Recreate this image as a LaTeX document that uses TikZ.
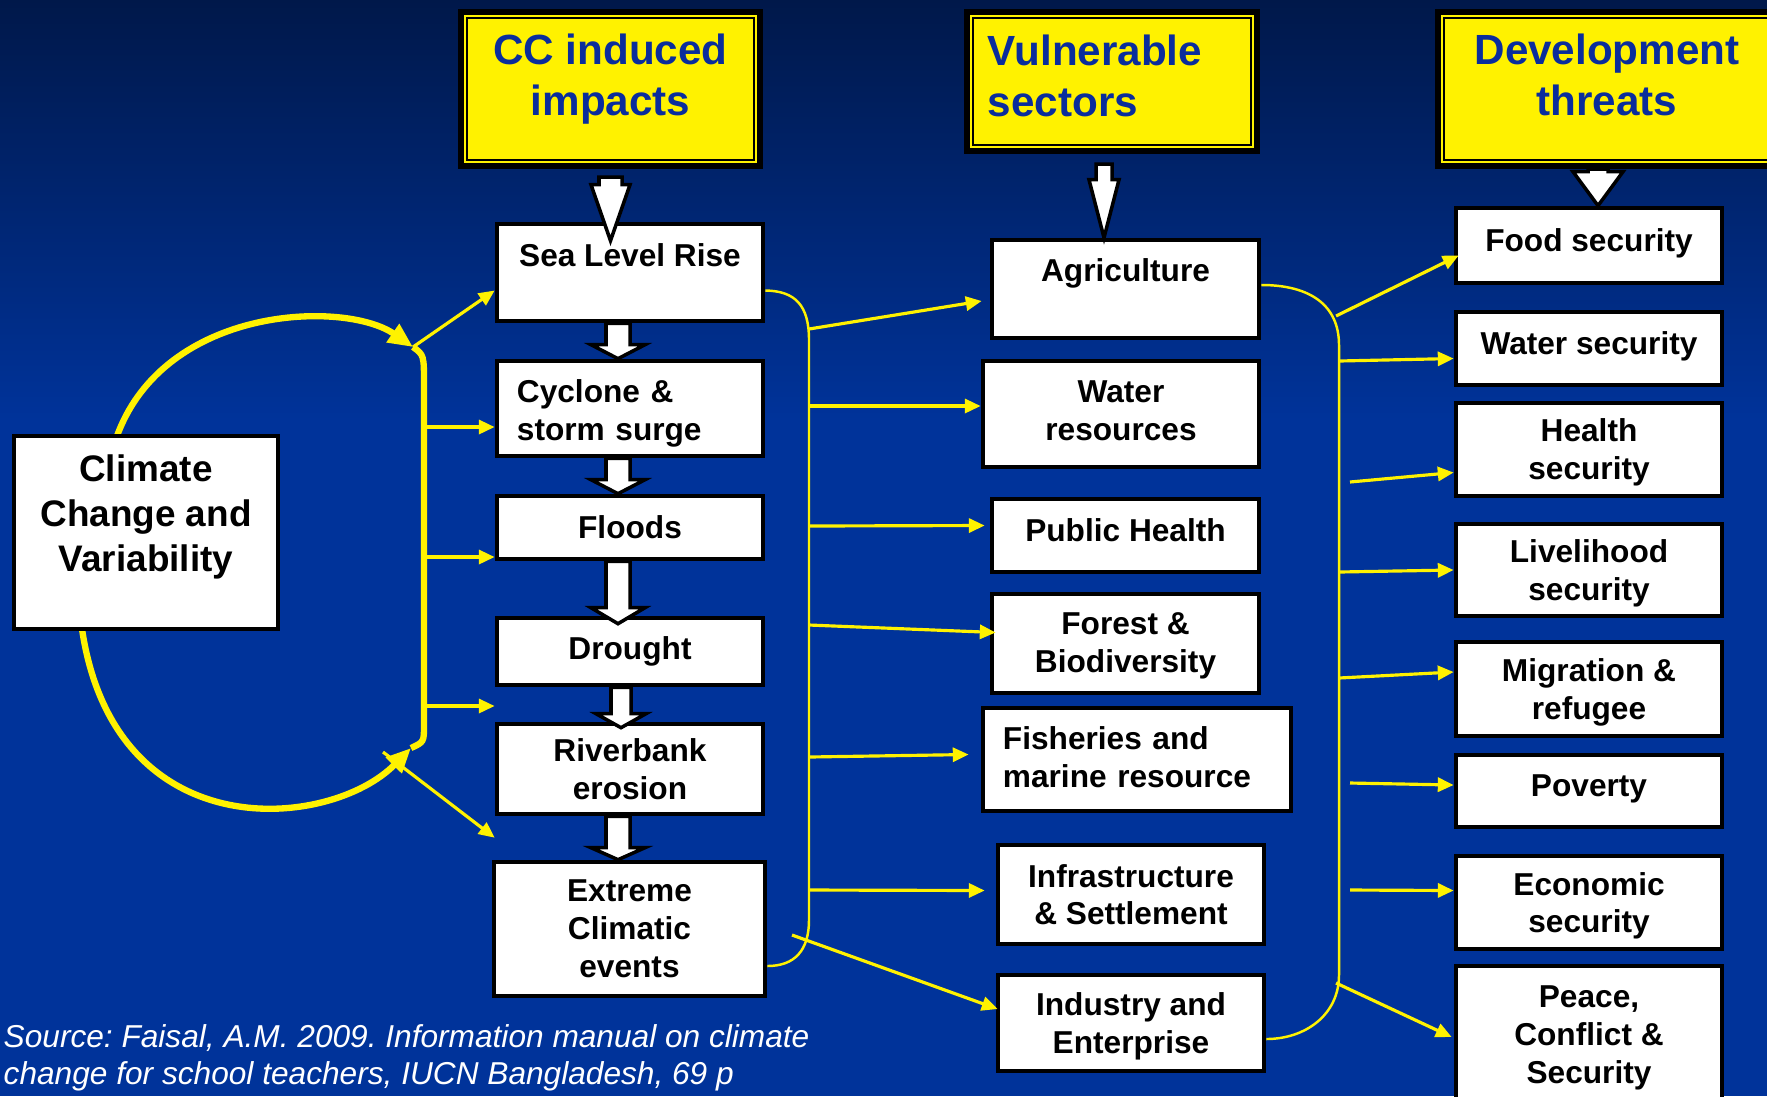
\documentclass[tikz,border=0pt]{standalone}
\usepackage{fontspec}
\setmainfont{Liberation Sans}
\usetikzlibrary{arrows.meta,calc}
\definecolor{navy}{HTML}{00184A}
\definecolor{slideblue}{HTML}{00339A}
\definecolor{headblue}{HTML}{0A2D9C}
\newcommand{\blockarrow}[5]{%
  \path[draw=black,fill=white,line width=1pt,line join=miter] let \p1=(#1), \p2=(#2) in
    (\x1-#3,\y1) -- (\x1-#3,\y2+#5) -- (\x1-#4,\y2+#5) -- (\x1,\y2)
    -- (\x1+#4,\y2+#5) -- (\x1+#3,\y2+#5) -- (\x1+#3,\y1) -- cycle;}

\begin{document}
\begin{tikzpicture}[x=0.01cm,y=-0.01cm,
    whitebox/.style={draw=black,line width=1.3pt,fill=white,align=center,
      font=\bfseries\fontsize{9}{10.8}\selectfont,inner sep=2pt},
    headbox/.style={preaction={draw=black,line width=5.2pt},
      preaction={draw=yellow,line width=1.8pt},
      draw=black,line width=0.6pt,fill=yellow,text=headblue,align=center,
      font=\bfseries\fontsize{12}{14.4}\selectfont},
    bigloop/.style={yellow,line width=1.8pt},
    thinline/.style={yellow,line width=0.7pt},
    thinarr/.style={yellow,line width=0.9pt,-{Triangle[length=4.5pt,width=4pt]}},
    srctext/.style={text=white,font=\itshape\frenchspacing\fontsize{9}{10.5}\selectfont,align=left,inner sep=0pt}]
    \useasboundingbox (0,0) rectangle (1767,1096);
    \fill[slideblue] (0,0) rectangle (1767,1096);
    \shade[top color=navy,bottom color=slideblue] (0,0) rectangle (1767,420);

    \node[headbox,minimum width=2.87cm,minimum height=1.42cm,text depth=8pt] (hcc) at (610.5,89) {CC induced\\impacts};
    \node[headbox,minimum width=2.78cm,minimum height=1.27cm,text width=2.48cm,inner xsep=0.15cm,align=left,text depth=17.6pt] (hvs) at (1112,81.5) {Vulnerable\\sectors};
    \node[headbox,minimum width=3.26cm,minimum height=1.42cm,text depth=8pt] (hdt) at (1607,89) {Development\\threats};

    \coordinate (ltop) at (413,347);
    \coordinate (lbot) at (411,748);
    \draw[bigloop,-{Triangle[length=7pt,width=6pt]}] (117,436) .. controls (165,305) and (345,300) .. (ltop);
    \draw[bigloop,-{Triangle[length=7pt,width=6pt]}] (82,629) .. controls (115,850) and (330,830) .. (lbot);
    \draw[bigloop] (ltop) .. controls (424,355) .. (424,385) -- (424,725) .. controls (424,742) .. (lbot);

    \node[whitebox,minimum width=2.64cm,minimum height=1.93cm,text depth=10.9pt,
      font=\bfseries\fontsize{10.5}{12.8}\selectfont] (ccv) at (146,532.5) {Climate\\Change and\\Variability};

    \node[whitebox,minimum width=2.66cm,minimum height=0.97cm,text depth=10pt] (slr) at (630,272.5) {Sea Level Rise};
    \node[whitebox,minimum height=0.95cm,text width=2.26cm,inner xsep=0.2cm,align=left,text depth=10.1pt] (cyc) at (630,408.5) {Cyclone \&\\storm surge};
    \node[whitebox,minimum width=2.66cm,minimum height=0.63cm] (fld) at (630,527.5) {Floods};
    \node[whitebox,minimum width=2.66cm,minimum height=0.67cm] (drt) at (630,651.5) {Drought};
    \node[whitebox,minimum width=2.66cm,minimum height=0.90cm,text depth=-2pt] (rvb) at (630,769) {Riverbank\\erosion};
    \node[whitebox,minimum width=2.71cm,minimum height=1.34cm,text depth=-2pt] (ext) at (629.5,929) {Extreme\\Climatic\\events};

    \node[whitebox,minimum width=2.67cm,minimum height=0.98cm,text depth=10.8pt] (agr) at (1125.5,289) {Agriculture};
    \node[whitebox,minimum width=2.76cm,minimum height=1.06cm,text depth=1.9pt] (wres) at (1121,414) {Water\\resources};
    \node[whitebox,minimum width=2.67cm,minimum height=0.73cm,text depth=3pt] (phl) at (1125.5,535.5) {Public Health};
    \node[whitebox,minimum width=2.67cm,minimum height=0.99cm,text depth=0.6pt] (frst) at (1125.5,643.5) {Forest \&\\Biodiversity};
    \node[whitebox,minimum height=1.03cm,text width=2.68cm,inner xsep=0.2cm,align=left,text depth=12.1pt] (fish) at (1137,759.5) {Fisheries and\\marine resource};
    \node[whitebox,minimum width=2.66cm,minimum height=0.99cm,text depth=-0.6pt] (infr) at (1131,894.5) {Infrastructure\\\& Settlement};
    \node[whitebox,minimum width=2.66cm,minimum height=0.96cm,text depth=-1pt] (ind) at (1131,1023) {Industry and\\Enterprise};

    \node[whitebox,minimum width=2.66cm,minimum height=0.75cm,text depth=3pt] (food) at (1589,245.5) {Food security};
    \node[whitebox,minimum width=2.66cm,minimum height=0.73cm,text depth=3pt] (wsec) at (1589,348.5) {Water security};
    \node[whitebox,minimum width=2.66cm,minimum height=0.93cm,text depth=-2pt] (hsec) at (1589,449.5) {Health\\security};
    \node[whitebox,minimum width=2.66cm,minimum height=0.92cm,text depth=-2pt] (lsec) at (1589,570) {Livelihood\\security};
    \node[whitebox,minimum width=2.66cm,minimum height=0.94cm,text depth=-0.6pt] (mig) at (1589,689) {Migration \&\\refugee};
    \node[whitebox,minimum width=2.66cm,minimum height=0.72cm,text depth=3pt] (pov) at (1589,791) {Poverty};
    \node[whitebox,minimum width=2.66cm,minimum height=0.93cm,text depth=-2pt] (eco) at (1589,902.5) {Economic\\security};
    \node[whitebox,minimum width=2.66cm,minimum height=1.38cm,text depth=0pt] (pce) at (1589,1035) {Peace,\\Conflict \&\\Security};

    \coordinate (l1) at (424,427);
    \coordinate (l2) at (424,557);
    \coordinate (l3) at (424,706);
    \coordinate (l4) at (383,752);
    \draw[thinarr] (ltop) -- ($(slr.west)+(0,18)$);
    \draw[thinarr] (l1) -- (l1 -| cyc.west);
    \draw[thinarr] (l2) -- (l2 -| fld.west);
    \draw[thinarr] (l3) -- (l3 -| drt.west);
    \draw[thinarr] (l4) -- ($(ext.north west)+(3,-22)$);

    \draw[thinline] ($(slr.east)+(0,18)$) .. controls (795,291) and (809,305) .. (809,340) -- (809,920)
      .. controls (809,950) and (795,966) .. ($(ext.east)+(0,37)$);
    \coordinate (m1) at (809,329);
    \coordinate (m2) at (809,406);
    \coordinate (m3) at (809,526);
    \coordinate (m4) at (809,625);
    \coordinate (m5) at (809,757);
    \coordinate (m6) at (809,890);
    \coordinate (m7) at (792,935);
    \draw[thinarr] (m1) -- ($(agr.west)+(-8,12)$);
    \draw[thinarr] (m2) -- (m2 -| wres.west);
    \draw[thinarr] (m3) -- ($(phl.west)+(-5,-10)$);
    \draw[thinarr] (m4) -- ($(frst.west)+(6,-11)$);
    \draw[thinarr] (m5) -- ($(fish.west)+(-12,-5)$);
    \draw[thinarr] (m6) -- ($(infr.west)+(-11,-4)$);
    \draw[thinarr] (m7) -- ($(ind.west)+(2,-14)$);

    \draw[thinline] ($(agr.east)+(0,-4)$) .. controls (1310,285) and (1339,305) .. (1339,345) -- (1339,975)
      .. controls (1339,1015) and (1305,1039) .. ($(ind.east)+(0,16)$);
    \coordinate (r1) at (1336,316);
    \coordinate (r2) at (1339,361);
    \coordinate (r3) at (1350,482);
    \coordinate (r4) at (1339,572);
    \coordinate (r5) at (1339,678);
    \coordinate (r6) at (1350,783);
    \coordinate (r7) at (1350,890);
    \coordinate (r8) at (1336,983);
    \draw[thinarr] (r1) -- ($(food.west)+(5,10)$);
    \draw[thinarr] (r2) -- ($(wsec.west)+(0,10)$);
    \draw[thinarr] (r3) -- ($(hsec.west)+(0,23)$);
    \draw[thinarr] (r4) -- (lsec.west);
    \draw[thinarr] (r5) -- ($(mig.west)+(0,-17)$);
    \draw[thinarr] (r6) -- ($(pov.west)+(0,-6)$);
    \draw[thinarr] (r7) -- ($(eco.west)+(0,-12)$);
    \draw[thinarr] (r8) -- ($(pce.west)+(-2,2)$);

    \blockarrow{[yshift=-0.16cm]hcc.south}{[yshift=-0.19cm]slr.north}{0.115cm}{0.195cm}{0.56cm}
    \blockarrow{[xshift=-0.08cm,yshift=-0.18cm]hvs.south}{agr.north}{0.08cm}{0.15cm}{0.58cm}
    \blockarrow{[xshift=-0.09cm,yshift=-0.08cm]hdt.south}{food.north}{0.1cm}{0.25cm}{0.34cm}
    \blockarrow{[xshift=-0.12cm]slr.south}{cyc.north}{0.12cm}{0.27cm}{0.14cm}
    \blockarrow{[xshift=-0.12cm]cyc.south}{fld.north}{0.12cm}{0.27cm}{0.14cm}
    \blockarrow{[xshift=-0.12cm]fld.south}{[yshift=-0.08cm]drt.north}{0.12cm}{0.27cm}{0.16cm}
    \blockarrow{[xshift=-0.09cm]drt.south}{[yshift=-0.06cm]rvb.north}{0.1cm}{0.25cm}{0.14cm}
    \blockarrow{[xshift=-0.12cm]rvb.south}{ext.north}{0.12cm}{0.27cm}{0.12cm}

    \node[srctext,anchor=north west] (src) at (3,1024) {Source: Faisal, A.M. 2009. Information manual on climate\\change for school teachers, IUCN Bangladesh, 69 p};
\end{tikzpicture}
\end{document}
